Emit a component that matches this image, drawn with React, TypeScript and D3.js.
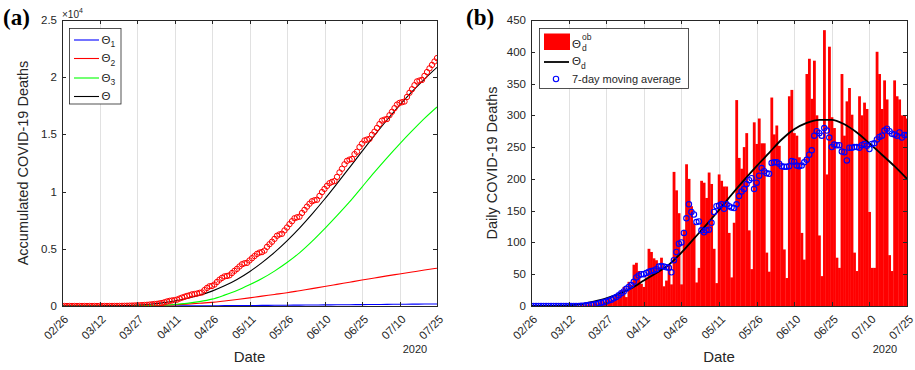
import React, { useEffect, useRef } from 'react';
import * as d3 from 'd3';

// day index 0 = 02/26/2020, 150 = 07/25/2020
const tickDays = [0, 15, 30, 45, 60, 75, 90, 105, 120, 135, 150];
const tickLabels = ['02/26', '03/12', '03/27', '04/11', '04/26', '05/11', '05/26', '06/10', '06/25', '07/10', '07/25'];
const yearLabel = '2020';

// observed daily deaths (bars)
const dailyDeaths = [
  0, 0, 0, 0, 0, 0, 0, 0, 0, 0,
  0, 0, 0, 0, 0, 1, 0, 0, 1, 0,
  2, 1, 2, 3, 2, 5, 4, 6, 8, 7,
  10, 12, 9, 14, 17, 16, 25, 30, 14, 38,
  33, 65, 68, 55, 35, 30, 45, 90, 85, 75,
  72, 60, 76, 31, 40, 63, 34, 211, 182, 146,
  34, 120, 223, 200, 157, 130, 37, 60, 197, 194,
  170, 210, 192, 90, 36, 207, 197, 188, 188, 115,
  45, 131, 324, 233, 216, 250, 272, 119, 58, 289,
  255, 295, 256, 256, 84, 54, 328, 270, 284, 252,
  217, 89, 44, 330, 340, 272, 268, 234, 115, 73,
  365, 389, 326, 386, 300, 111, 47, 434, 207, 408,
  297, 280, 76, 60, 365, 268, 322, 343, 301, 84,
  55, 330, 300, 320, 310, 148, 60, 60, 400, 365,
  310, 355, 325, 80, 55, 355, 330, 325, 300, 300,
  295,
];

// 7-day moving average (blue circles)
const movingAverage = [
  0, 0, 0, 0, 0, 0, 0, 0, 0, 0,
  0, 0, 0, 0, 0, 0, 0, 0, 0, 0,
  0.5, 0.5, 1, 1.5, 2, 2.5, 3, 4, 5, 6,
  7, 8.5, 10, 12, 14, 17, 20, 23, 27, 30,
  33, 38, 45, 48, 50, 50, 52, 54, 55, 56,
  58, 62, 63, 62, 61, 60, 53, 72, 85, 98,
  100, 115, 138, 160, 148, 144, 132, 133, 119, 116,
  119, 120, 131, 148, 157, 158, 160, 153, 160, 157,
  155, 154, 160, 173, 180, 184, 192, 198, 201, 184,
  194, 205, 217, 212, 209, 208, 225, 226, 226, 224,
  220, 219, 219, 220, 228, 227, 221, 220, 221, 226,
  230, 238, 245, 268, 275, 272, 268, 280, 276, 265,
  250, 254, 253, 253, 243, 242, 229, 249, 249, 250,
  250, 249, 253, 255, 252, 247, 255, 256, 262, 266,
  268, 276, 279, 275, 271, 270, 268, 273, 265, 269,
  269,
];

// model curves, sampled every 5 days
const modelDays = [0, 5, 10, 15, 20, 25, 30, 35, 40, 45, 50, 55, 60, 65, 70, 75, 80, 85, 90, 95, 100, 105, 110, 115, 120, 125, 130, 135, 140, 145, 150];
const theta1 = [0, 0, 0, 0, 0, 0, 0, 1, 3, 6, 10, 15, 22, 29, 37, 45, 53, 61, 70, 79, 88, 97, 106, 115, 124, 133, 142, 151, 160, 170, 180];
const theta2 = [0, 0, 0, 0, 1, 4, 12, 30, 60, 100, 160, 235, 320, 440, 570, 710, 860, 1010, 1160, 1340, 1520, 1700, 1890, 2080, 2270, 2450, 2630, 2800, 2970, 3140, 3300];
const theta3 = [0, 0, 0, 0, 1, 4, 12, 30, 65, 130, 230, 380, 600, 950, 1350, 1850, 2400, 3050, 3800, 4650, 5650, 6750, 7900, 9100, 10400, 11700, 12950, 14150, 15300, 16400, 17400];
const theta = [0, 0, 1, 4, 14, 38, 83, 157, 271, 436, 658, 940, 1300, 1760, 2320, 3000, 3790, 4690, 5700, 6810, 8030, 9330, 10700, 12100, 13510, 14910, 16260, 17540, 18740, 19840, 20860];
const thetaDaily = [0, 0, 0.3, 1, 3, 7, 12, 19, 28, 40, 52, 65, 84, 106, 128, 151, 175, 198, 220, 241, 262, 278, 288, 293, 293, 286, 273, 256, 238, 220, 200];

const accTicks = [0, 5000, 10000, 15000, 20000, 25000];
const dailyTicks = [0, 50, 100, 150, 200, 250, 300, 350, 400, 450];

const FONT = 'Liberation Sans, Arial, Helvetica, sans-serif';
const SERIF = 'Liberation Serif, Times New Roman, serif';
const AX = '#262626';
const snap = (v: number) => Math.round(v) + 0.5;

function drawGrid(svg: any, x: any, y: any, id: string) {
  const [l, r] = x.range();
  const [b, t] = y.range();
  svg.append('g').selectAll('line')
    .data(tickDays)
    .join('line')
    .attr('x1', (d: number) => snap(x(d)))
    .attr('x2', (d: number) => snap(x(d)))
    .attr('y1', b)
    .attr('y2', t)
    .attr('stroke', '#e1e1e1')
    .attr('stroke-width', 1);
  svg.append('clipPath').attr('id', id)
    .append('rect')
    .attr('x', l).attr('y', t).attr('width', r - l).attr('height', b - t);
}

function drawAxes(svg: any, x: any, y: any, yTicks: number[], fmt: (v: number) => string, yTitle: string, titleX: number) {
  const [l, r] = x.range();
  const [b, t] = y.range();
  const g = svg.append('g').attr('font-family', FONT).attr('fill', AX);

  g.append('rect')
    .attr('x', snap(l)).attr('y', snap(t))
    .attr('width', Math.round(r - l)).attr('height', Math.round(b - t))
    .attr('fill', 'none').attr('stroke', AX).attr('stroke-width', 1);

  // x ticks (bottom + top, inward)
  tickDays.forEach((d, i) => {
    const xx = snap(x(d));
    g.append('line').attr('x1', xx).attr('x2', xx).attr('y1', b).attr('y2', b - 4).attr('stroke', AX);
    g.append('line').attr('x1', xx).attr('x2', xx).attr('y1', t).attr('y2', t + 4).attr('stroke', AX);
    g.append('text')
      .attr('transform', `translate(${x(d) + 7},${b + 14}) rotate(-45)`)
      .attr('text-anchor', 'end')
      .attr('font-size', 11.5)
      .text(tickLabels[i]);
  });

  // y ticks (left + right, inward)
  yTicks.forEach(v => {
    const yy = snap(y(v));
    g.append('line').attr('x1', l).attr('x2', l + 4).attr('y1', yy).attr('y2', yy).attr('stroke', AX);
    g.append('line').attr('x1', r).attr('x2', r - 4).attr('y1', yy).attr('y2', yy).attr('stroke', AX);
    g.append('text')
      .attr('x', l - 5)
      .attr('y', y(v))
      .attr('dy', '0.35em')
      .attr('text-anchor', 'end')
      .attr('font-size', 11.5)
      .text(fmt(v));
  });

  g.append('text')
    .attr('x', r - 22).attr('y', b + 47)
    .attr('text-anchor', 'middle').attr('font-size', 11)
    .text(yearLabel);

  g.append('text')
    .attr('x', (l + r) / 2).attr('y', 362)
    .attr('text-anchor', 'middle').attr('font-size', 15)
    .text('Date');

  g.append('text')
    .attr('transform', `translate(${titleX},${(b + t) / 2}) rotate(-90)`)
    .attr('text-anchor', 'middle').attr('font-size', 14.5)
    .text(yTitle);
}

function draw(svg: any) {
  // ---------- panel (a) ----------
  const xA = d3.scaleLinear().domain([0, 150]).range([62, 437]);
  const yA = d3.scaleLinear().domain([0, 25000]).range([306, 20]);
  drawGrid(svg, xA, yA, 'clipA');

  const gA = svg.append('g').attr('clip-path', 'url(#clipA)');
  const lineA = d3.line<number>()
    .x((_, i) => xA(modelDays[i]))
    .y(d => yA(d))
    .curve(d3.curveMonotoneX);
  const curves: [number[], string][] = [[theta1, '#0000ff'], [theta2, '#ff0000'], [theta3, '#00ff00'], [theta, '#000000']];
  curves.forEach(([vals, c]) => {
    gA.append('path').attr('d', lineA(vals)).attr('fill', 'none').attr('stroke', c).attr('stroke-width', 1.1);
  });

  const accumulated = Array.from(d3.cumsum(dailyDeaths));
  gA.append('g').selectAll('circle')
    .data(accumulated)
    .join('circle')
    .attr('cx', (_: number, i: number) => xA(i))
    .attr('cy', (d: number) => yA(d))
    .attr('r', 2.7)
    .attr('fill', 'none')
    .attr('stroke', '#ff0000')
    .attr('stroke-width', 1);

  drawAxes(svg, xA, yA, accTicks, v => d3.format('~g')(v / 10000), 'Accumulated COVID-19 Deaths', 28);

  const expo = svg.append('text').attr('x', 62).attr('y', 18).attr('font-family', FONT).attr('fill', AX).attr('font-size', 10);
  expo.append('tspan').text('\u00d710');
  expo.append('tspan').attr('font-size', 7).attr('dy', -5).text('4');

  // legend (a)
  const legA = svg.append('g').attr('font-family', FONT).attr('fill', AX);
  legA.append('rect').attr('x', 69.5).attr('y', 28.5).attr('width', 51.5).attr('height', 75.5)
    .attr('fill', '#fff').attr('stroke', AX).attr('stroke-width', 0.8);
  const legItems: [string, string, number][] = [['#0000ff', '1', 40], ['#ff0000', '2', 58.5], ['#00ff00', '3', 78], ['#000000', '', 96.5]];
  legItems.forEach(([c, sub, ly]) => {
    legA.append('line').attr('x1', 74).attr('x2', 99).attr('y1', ly).attr('y2', ly).attr('stroke', c).attr('stroke-width', 1.1);
    const tx = legA.append('text').attr('x', 101.5).attr('y', ly + 3.8).attr('font-size', 11.5);
    tx.append('tspan').text('\u0398');
    if (sub) tx.append('tspan').attr('font-size', 8.5).attr('dy', 3.6).text(sub);
  });

  // ---------- panel (b) ----------
  const xB = d3.scaleLinear().domain([0, 150]).range([531, 907]);
  const yB = d3.scaleLinear().domain([0, 450]).range([306, 20]);
  drawGrid(svg, xB, yB, 'clipB');

  const gB = svg.append('g').attr('clip-path', 'url(#clipB)');
  const bw = xB(1) - xB(0);
  gB.append('g').selectAll('rect')
    .data(dailyDeaths)
    .join('rect')
    .attr('x', (_: number, i: number) => xB(i) - bw / 2)
    .attr('y', (d: number) => yB(d))
    .attr('width', bw + 0.3)
    .attr('height', (d: number) => yB(0) - yB(d))
    .attr('fill', '#ff0000');

  const lineB = d3.line<number>()
    .x((_, i) => xB(modelDays[i]))
    .y(d => yB(d))
    .curve(d3.curveMonotoneX);
  gB.append('path').attr('d', lineB(thetaDaily)).attr('fill', 'none').attr('stroke', '#000').attr('stroke-width', 1.8);

  gB.append('g').selectAll('circle')
    .data(movingAverage)
    .join('circle')
    .attr('cx', (_: number, i: number) => xB(i))
    .attr('cy', (d: number) => yB(d))
    .attr('r', 2.7)
    .attr('fill', 'none')
    .attr('stroke', '#0000ff')
    .attr('stroke-width', 1.1);

  drawAxes(svg, xB, yB, dailyTicks, v => String(v), 'Daily COVID-19 Deaths', 497);

  // legend (b)
  const legB = svg.append('g').attr('font-family', FONT).attr('fill', AX);
  legB.append('rect').attr('x', 539.5).attr('y', 28.5).attr('width', 149).attr('height', 60)
    .attr('fill', '#fff').attr('stroke', AX).attr('stroke-width', 0.8);
  legB.append('rect').attr('x', 544).attr('y', 33.5).attr('width', 26).attr('height', 16.5).attr('fill', '#ff0000');
  const t1 = legB.append('text').attr('x', 572).attr('y', 48).attr('font-size', 11.5);
  t1.append('tspan').text('\u0398');
  t1.append('tspan').attr('x', 582).attr('y', 40).attr('font-size', 8.5).text('ob');
  t1.append('tspan').attr('x', 582).attr('y', 50.5).attr('font-size', 8.5).text('d');

  legB.append('line').attr('x1', 544).attr('x2', 569).attr('y1', 62).attr('y2', 62).attr('stroke', '#000').attr('stroke-width', 1.8);
  const t2 = legB.append('text').attr('x', 572).attr('y', 65).attr('font-size', 11.5);
  t2.append('tspan').text('\u0398');
  t2.append('tspan').attr('font-size', 8.5).attr('dy', 4).text('d');

  legB.append('circle').attr('cx', 556).attr('cy', 79).attr('r', 2.7).attr('fill', 'none').attr('stroke', '#0000ff').attr('stroke-width', 1.1);
  legB.append('text').attr('x', 572).attr('y', 83).attr('font-size', 11).text('7-day moving average');

  // panel letters
  svg.append('text').attr('x', 3).attr('y', 25).attr('font-family', SERIF).attr('font-weight', 'bold').attr('font-size', 23).text('(a)');
  svg.append('text').attr('x', 466).attr('y', 25).attr('font-family', SERIF).attr('font-weight', 'bold').attr('font-size', 23).text('(b)');
}

export default function App() {
  const ref = useRef<SVGSVGElement>(null);

  useEffect(() => {
    const svg = d3.select(ref.current);
    svg.selectAll('*').remove();
    draw(svg);
  }, []);

  return (
    <svg
      ref={ref}
      width={915}
      height={370}
      style={{ position: 'absolute', left: 0, top: 0, background: '#fff' }}
    />
  );
}
